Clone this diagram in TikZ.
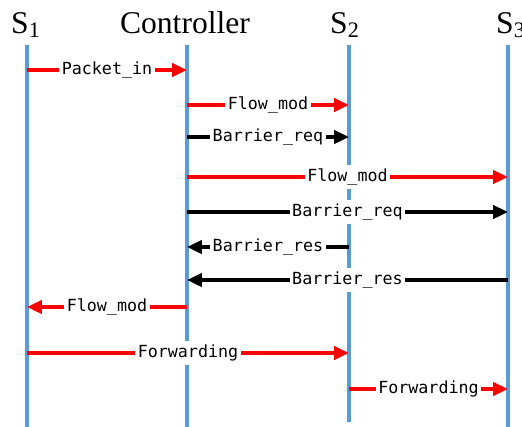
\documentclass[tikz,border=0pt]{standalone}
\usepackage{fontspec}
\setmainfont{Liberation Serif}
\newfontfamily\headfont{Liberation Serif}
\newfontfamily\msgfont{DejaVu Sans Mono}
\usetikzlibrary{arrows.meta}
\definecolor{lifeblue}{HTML}{5B9BD5}
\definecolor{msgred}{HTML}{FF0000}

\begin{document}
\begin{tikzpicture}[
  x=0.02cm, y=-0.02cm,
  header/.style={anchor=base, inner sep=0pt, font=\headfont\fontsize{18}{22}\selectfont},
  lifeline/.style={lifeblue, line width=2.3pt},
  msg/.style={line width=2.4pt, -{Triangle[length=8.5pt,width=7.5pt]}},
  msglabel/.style={fill=white, text=black, inner xsep=1.5pt, inner ysep=2pt,
    font=\msgfont\fontsize{9.5}{11}\selectfont},
]
  % Scale: 1 unit = 1px of the 522x427 figure, y runs downwards
  \useasboundingbox (0,0) rectangle (522,427);

  % Headers
  \node[header] (h1)  at (26,33)  {S\textsubscript{1}};
  \node[header] (hc)  at (185,33) {Controller};
  \node[header] (h2)  at (345,33) {S\textsubscript{2}};
  \node[header] (h3)  at (511,33) {S\textsubscript{3}};

  % Lifelines (tops)
  \coordinate (S1)  at (27,45);
  \coordinate (Ctl) at (187,45);
  \coordinate (S2)  at (349,45);
  \coordinate (S3)  at (508,45);

  \draw[lifeline] (S1)  -- (S1 |- 0,427);
  \draw[lifeline] (Ctl) -- (Ctl |- 0,427);
  \draw[lifeline] (S2)  -- (S2 |- 0,422);
  \draw[lifeline] (S3)  -- (S3 |- 0,427);

  % Messages: y / from / to / colour / label
  \foreach \y/\a/\b/\c/\t in {
      70/S1/Ctl/msgred/Packet\_in,
      105/Ctl/S2/msgred/Flow\_mod,
      137/Ctl/S2/black/Barrier\_req,
      177/Ctl/S3/msgred/Flow\_mod,
      212/Ctl/S3/black/Barrier\_req,
      247/S2/Ctl/black/Barrier\_res,
      280/S3/Ctl/black/Barrier\_res,
      307/Ctl/S1/msgred/Flow\_mod,
      353/S1/S2/msgred/Forwarding,
      389/S2/S3/msgred/Forwarding} {
    \draw[msg, color=\c] (\a |- 0,\y) -- (\b |- 0,\y)
      node[msglabel, midway] {\t};
  }
\end{tikzpicture}
\end{document}
